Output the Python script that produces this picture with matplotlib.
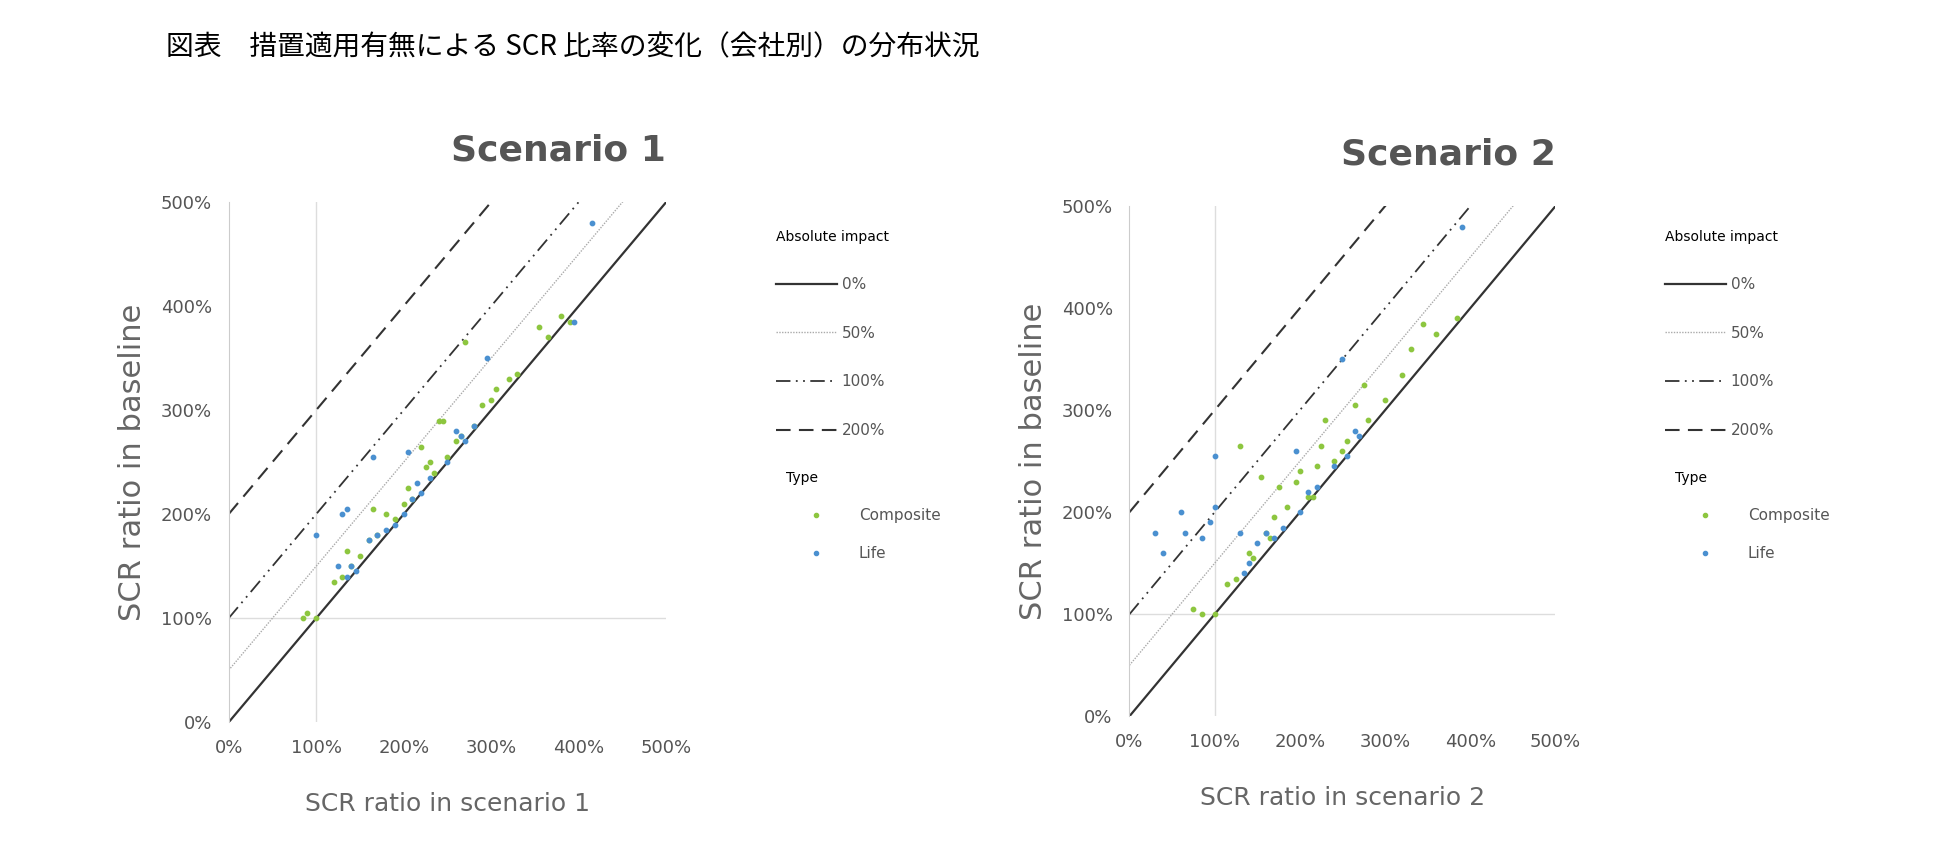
import numpy as np
import matplotlib.pyplot as plt
from matplotlib.lines import Line2D

# scenario 1 points (x = scenario, y = baseline), in %
s1_comp_x = [85, 90, 100, 120, 130, 135, 140, 150, 160, 165, 170, 180, 190, 200, 205, 210, 220, 225, 230, 235,
             240, 245, 250, 260, 265, 270, 280, 290, 300, 305, 320, 330, 355, 365, 380, 390]
s1_comp_y = [100, 105, 100, 135, 140, 165, 150, 160, 175, 205, 180, 200, 195, 210, 225, 215, 265, 245, 250, 240,
             290, 290, 255, 270, 275, 365, 285, 305, 310, 320, 330, 335, 380, 370, 390, 385]
s1_life_x = [100, 130, 135, 140, 145, 160, 165, 170, 180, 190, 200, 205, 210, 215, 220, 230, 250, 260, 265, 270,
             280, 295, 395, 415, 125, 135]
s1_life_y = [180, 200, 205, 150, 145, 175, 255, 180, 185, 190, 200, 260, 215, 230, 220, 235, 250, 280, 275, 270,
             285, 350, 385, 480, 150, 140]

# scenario 2 points
s2_comp_x = [75, 85, 100, 115, 125, 130, 140, 145, 155, 160, 165, 170, 175, 185, 195, 200, 210, 215, 220, 225,
             230, 240, 250, 255, 265, 275, 280, 300, 320, 330, 345, 360, 385]
s2_comp_y = [105, 100, 100, 130, 135, 265, 160, 155, 235, 180, 175, 195, 225, 205, 230, 240, 215, 215, 245, 265,
             290, 250, 260, 270, 305, 325, 290, 310, 335, 360, 385, 375, 390]
s2_life_x = [30, 40, 60, 65, 85, 95, 100, 100, 130, 135, 140, 150, 160, 170, 180, 195, 200, 210, 220, 240,
             250, 255, 265, 270, 390]
s2_life_y = [180, 160, 200, 180, 175, 190, 255, 205, 180, 140, 150, 170, 180, 175, 185, 260, 200, 220, 225, 245,
             350, 255, 280, 275, 480]

impacts = [0, 50, 100, 200]
impact_labels = ['0%', '50%', '100%', '200%']
ticks = [0, 100, 200, 300, 400, 500]
tick_labels = ['0%', '100%', '200%', '300%', '400%', '500%']

GREEN = '#8dc63f'
BLUE = '#4a90d0'
styles = [dict(color='#333333', lw=1.6, ls='-'),
          dict(color='#aaaaaa', lw=1.0, ls=(0, (1, 1))),
          dict(color='#333333', lw=1.3, ls=(0, (8, 3, 1, 3, 1, 3))),
          dict(color='#333333', lw=1.5, ls=(0, (7, 4)))]

fig = plt.figure(figsize=(19.54, 8.63), dpi=100)
fig.text(0.085, 0.945, '図表　措置適用有無による SCR 比率の変化（会社別）の分布状況',
         fontsize=20, family='Noto Sans CJK JP', va='center')

panels = [([0.117, 0.163, 0.224, 0.603], s1_comp_x, s1_comp_y, s1_life_x, s1_life_y, 'Scenario 1', 'SCR ratio in scenario 1', 0.39),
          ([0.578, 0.170, 0.218, 0.591], s2_comp_x, s2_comp_y, s2_life_x, s2_life_y, 'Scenario 2', 'SCR ratio in scenario 2', 0.845)]

for rect, cx, cy, lx, ly, title, xlabel, legx in panels:
    ax = fig.add_axes(rect)
    xs = np.array([0, 500])
    for imp, st in zip(impacts, styles):
        ax.plot(xs, xs + imp, **st)
    ax.axvline(100, color='#dddddd', lw=1, zorder=0)
    ax.axhline(100, color='#dddddd', lw=1, zorder=0)
    ax.scatter(cx, cy, s=10, color=GREEN, zorder=3)
    ax.scatter(lx, ly, s=10, color=BLUE, zorder=3)
    ax.set_xlim(0, 500)
    ax.set_ylim(0, 500)
    ax.set_xticks(ticks, tick_labels)
    ax.set_yticks(ticks, tick_labels)
    ax.tick_params(labelsize=13, colors='#555555', length=0, pad=12)
    for sp in ['top', 'right', 'bottom']:
        ax.spines[sp].set_visible(False)
    ax.spines['left'].set_color('#cccccc')
    ax.set_title(title, fontsize=26, fontweight='bold', color='#555555', loc='right', pad=30)
    ax.set_xlabel(xlabel, fontsize=18, color='#666666', labelpad=25)
    ax.set_ylabel('SCR ratio in baseline', fontsize=22, color='#666666', labelpad=10)

    h1 = [Line2D([], [], **st) for st in styles]
    leg1 = fig.legend(h1, impact_labels, title='Absolute impact', loc='upper left',
                      bbox_to_anchor=(legx, 0.75), frameon=False, fontsize=11,
                      title_fontsize=10, labelspacing=2.2, handlelength=4, handletextpad=0.3,
                      labelcolor='#555555')
    leg1._legend_box.align = 'left'
    h2 = [Line2D([], [], ls='', marker='o', ms=3, color=c) for c in (GREEN, BLUE)]
    leg2 = fig.legend(h2, ['Composite', 'Life'], title='Type', loc='upper left',
                      bbox_to_anchor=(legx + 0.005, 0.47), frameon=False, fontsize=11,
                      title_fontsize=10, labelspacing=1.5, handlelength=4,
                      labelcolor='#555555')
    leg2._legend_box.align = 'left'

fig.savefig('out.png', dpi=100)
